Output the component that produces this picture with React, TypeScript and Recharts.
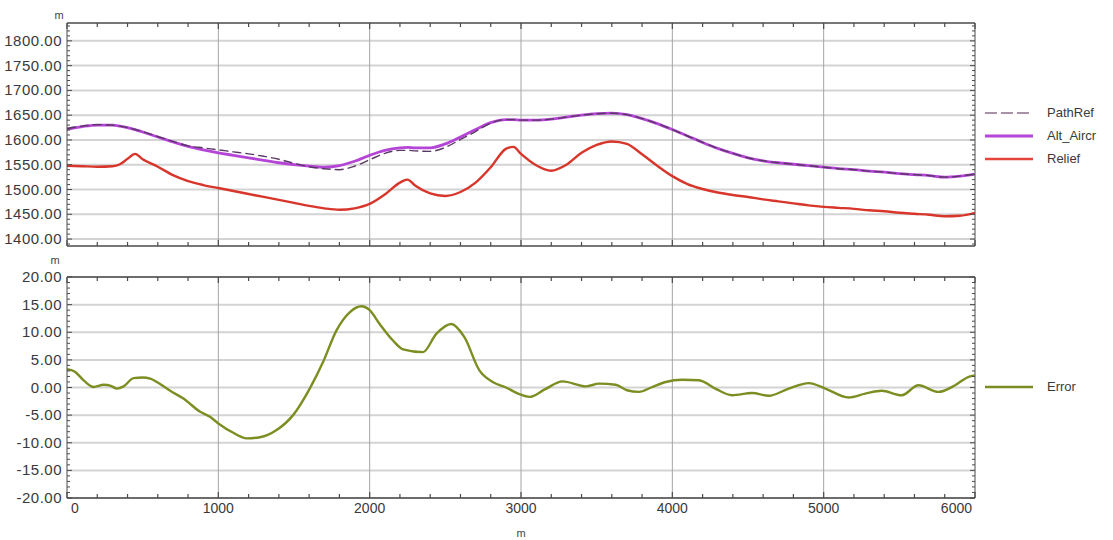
import React from 'react';
import { LineChart, Line, XAxis, YAxis, ReferenceLine } from 'recharts';

// ---------- data ----------
const topDistance = [
  0, 100, 200, 300, 350, 400, 450, 500, 600, 700, 800, 900, 1000, 1100, 1200, 1300, 1400, 1500, 1600, 1700,
  1800, 1900, 2000, 2100, 2200, 2250, 2300, 2400, 2500, 2600, 2700, 2800, 2900, 2950, 3000, 3100, 3200, 3300,
  3400, 3500, 3600, 3700, 3800, 3900, 4000, 4100, 4200, 4300, 4400, 4500, 4600, 4700, 4800, 4900, 5000, 5100,
  5200, 5300, 5400, 5500, 5600, 5700, 5800, 5900, 6000,
];
const relief = [
  1548, 1547, 1546, 1547, 1551, 1562, 1572, 1561, 1546, 1529, 1517, 1509, 1503, 1497, 1491, 1485, 1479, 1473, 1467, 1462,
  1459, 1462, 1471, 1490, 1514, 1520, 1508, 1492, 1487, 1495, 1514, 1545, 1582, 1586, 1572, 1549, 1538, 1550,
  1574, 1590, 1597, 1592, 1571, 1548, 1527, 1511, 1501, 1494, 1489, 1485, 1480, 1476, 1472, 1468, 1465, 1463,
  1461, 1458, 1456, 1453, 1451, 1449, 1446, 1447, 1453,
];
const altAircr = [
  1622, 1627, 1630, 1630, 1628, 1625, 1621, 1616, 1606, 1596, 1587, 1580, 1574, 1569, 1564, 1559, 1554, 1550, 1547, 1545,
  1548, 1557, 1569, 1579, 1584, 1585, 1584, 1584, 1592, 1606, 1621, 1635, 1641, 1641, 1640, 1640, 1642, 1646,
  1650, 1653, 1654, 1651, 1643, 1633, 1621, 1608, 1595, 1583, 1573, 1564, 1558, 1554, 1551, 1548, 1545, 1542,
  1540, 1537, 1535, 1532, 1530, 1528, 1525, 1527, 1531,
];
const pathRef = [
  1623, 1628, 1631, 1630, 1628, 1625, 1621, 1617, 1607, 1597, 1588, 1584, 1580, 1576, 1572, 1567, 1561, 1553, 1546, 1542,
  1540, 1547, 1560, 1573, 1579, 1579, 1578, 1577, 1585, 1601, 1617, 1634, 1641, 1641, 1640, 1640, 1642, 1646,
  1650, 1653, 1654, 1651, 1643, 1633, 1621, 1608, 1595, 1583, 1573, 1564, 1558, 1554, 1551, 1548, 1545, 1542,
  1540, 1537, 1535, 1532, 1530, 1528, 1525, 1527, 1531,
];

const errorDistance = [
  0, 50, 110, 176, 242, 290, 330, 374, 440, 500, 550, 594, 682, 769, 880, 945, 1000, 1099, 1187, 1275,
  1385, 1494, 1604, 1692, 1780, 1868, 1945, 2000, 2066, 2154, 2220, 2352, 2440, 2539, 2626, 2725, 2813, 2901,
  2989, 3055, 3160, 3274, 3429, 3516, 3626, 3700, 3780, 3860, 3956, 4066, 4176, 4290, 4395, 4527, 4637, 4769,
  4901, 5011, 5165, 5275, 5384, 5516, 5626, 5758, 5868, 5955, 6000,
];
const errorValues = [
  3.3, 2.9, 1.3, 0.1, 0.5, 0.3, -0.2, 0.2, 1.7, 1.8, 1.6, 1.0, -0.6, -2.0, -4.4, -5.3, -6.5, -8.2, -9.2, -9.0,
  -7.7, -5.0, -0.2, 4.6, 10.3, 13.6, 14.7, 14.0, 11.5, 8.5, 6.9, 6.4, 9.7, 11.5, 9.1, 3.1, 1.0, 0.0,
  -1.2, -1.7, -0.3, 1.1, 0.2, 0.7, 0.5, -0.5, -0.8, 0.0, 1.0, 1.4, 1.3, -0.3, -1.4, -1.0, -1.5, -0.2,
  0.8, -0.2, -1.8, -1.1, -0.6, -1.4, 0.4, -0.8, 0.4, 1.9, 2.2,
];

const xTicks = [0, 1000, 2000, 3000, 4000, 5000, 6000];
const topYTicks = [1400, 1450, 1500, 1550, 1600, 1650, 1700, 1750, 1800];
const bottomYTicks = [-20, -15, -10, -5, 0, 5, 10, 15, 20];

const topRows = topDistance.map((d, i) => ({ d, relief: relief[i], alt: altAircr[i], path: pathRef[i] }));
const errorRows = errorDistance.map((d, i) => ({ d, err: errorValues[i] }));

// minor tick positions (frame decoration only)
const range = (a: number, b: number, s: number) => {
  const out: number[] = [];
  for (let v = a; v <= b + 1e-9; v += s) out.push(Math.round(v * 100) / 100);
  return out;
};
const xMinor = range(0, 6000, 200);
const topYMinor = range(1390, 1830, 10);
const bottomYMinor = range(-20, 20, 1);

const TOP_DOMAIN: [number, number] = [1386, 1836];
const BOT_DOMAIN: [number, number] = [-20, 20];
const X_DOMAIN: [number, number] = [0, 6000];

// layout
const PLOT_L = 67;
const PLOT_R = 975;
const TOP_T = 23;
const TOP_B = 246;
const BOT_T = 27;
const BOT_B = 248;

const FONT = '"Liberation Sans", Arial, Helvetica, sans-serif';
const FRAME = '#4a4a4a';
const HGRID = '#d3d3d3';
const VGRID = '#a4a4a4';

const C_RELIEF = '#d8352b';
const C_ALT = '#b545d6';
const C_PATH = '#5a3866';
const C_ERR = '#7c8e22';

function XFrameTick(props: any) {
  const { x, payload, top, bottom, labels } = props;
  const v = payload.value;
  const major = v % 1000 === 0;
  const len = major ? 6 : 4;
  let anchor = 'middle';
  let dx = 0;
  if (v === 0) { anchor = 'start'; dx = 4; }
  if (v === 6000) { anchor = 'end'; dx = -3; }
  return (
    <g>
      <line x1={x} x2={x} y1={top} y2={top + len} stroke={FRAME} strokeWidth={1.2} />
      <line x1={x} x2={x} y1={bottom - len} y2={bottom} stroke={FRAME} strokeWidth={1.2} />
      {labels && major ? (
        <text x={x + dx} y={bottom + 15} textAnchor={anchor} fontSize={14} fill="#3a3a3a" fontFamily={FONT}>
          {v}
        </text>
      ) : null}
    </g>
  );
}

function YFrameTick(props: any) {
  const { x, y, payload, step } = props;
  const v = payload.value;
  const major = Math.abs(v / step - Math.round(v / step)) < 1e-6;
  const len = major ? 5 : 3;
  return (
    <g>
      <line x1={PLOT_L} x2={PLOT_L + len} y1={y} y2={y} stroke={FRAME} strokeWidth={1} />
      <line x1={PLOT_R - len} x2={PLOT_R} y1={y} y2={y} stroke={FRAME} strokeWidth={1} />
      {major ? (
        <text x={x} y={y} dy={5} textAnchor="end" fontSize={15} letterSpacing={0.5} fill="#3a3a3a" fontFamily={FONT}>
          {v.toFixed(2)}
        </text>
      ) : null}
    </g>
  );
}

function LegendRow(p: { top: number; label: string; color: string; dash?: string; sw: number }) {
  return (
    <div style={{ position: 'absolute', left: 983, top: p.top - 8, height: 16, display: 'flex', alignItems: 'center' }}>
      <svg width={52} height={16} style={{ display: 'block' }}>
        <line x1={2} y1={8} x2={50} y2={8} stroke={p.color} strokeWidth={p.sw} strokeDasharray={p.dash} />
      </svg>
      <span style={{ marginLeft: 12, fontSize: 13, color: '#3a3a3a', fontFamily: FONT, lineHeight: '16px' }}>{p.label}</span>
    </div>
  );
}

export default function App() {
  return (
    <div style={{ position: 'fixed', left: 0, top: 0, width: 1113, height: 540, background: '#fff', fontFamily: FONT }}>
      <div style={{ position: 'absolute', left: 0, top: 0 }}>
        <LineChart width={1113} height={250} data={topRows} margin={{ top: TOP_T, right: 1113 - PLOT_R, bottom: 3, left: 7 }}>
          {topYTicks.map((t) => (
            <ReferenceLine key={'h' + t} y={t} stroke={HGRID} strokeWidth={2} />
          ))}
          {xTicks.slice(1, -1).map((t) => (
            <ReferenceLine key={'v' + t} x={t} stroke={VGRID} strokeWidth={1} />
          ))}
          <ReferenceLine y={TOP_DOMAIN[1]} stroke={FRAME} strokeWidth={1.6} />
          <ReferenceLine x={X_DOMAIN[1]} stroke={FRAME} strokeWidth={1} />
          <XAxis dataKey="d" type="number" domain={X_DOMAIN} ticks={xMinor} interval={0} height={1}
            tick={(p: any) => <XFrameTick {...p} top={TOP_T} bottom={TOP_B} labels={false} />}
            tickLine={false} tickSize={0} axisLine={{ stroke: FRAME, strokeWidth: 1.6 }} allowDataOverflow />
          <YAxis type="number" domain={TOP_DOMAIN} ticks={topYMinor} interval={0} width={60} tickLine={false}
            tickSize={0} tickMargin={5} tick={(p: any) => <YFrameTick {...p} step={50} />}
            axisLine={{ stroke: FRAME }} allowDataOverflow
            label={{ value: 'm', position: 'top', dx: 22, offset: 4, fontSize: 11, fill: '#444' }} />
          <Line type="monotone" dataKey="relief" stroke={C_RELIEF} strokeWidth={2.4} dot={false} isAnimationActive={false} />
          <Line type="monotone" dataKey="alt" stroke={C_ALT} strokeWidth={2.8} dot={false} isAnimationActive={false} />
          <Line type="monotone" dataKey="path" stroke={C_PATH} strokeWidth={1.4} strokeDasharray="9 4" dot={false} isAnimationActive={false} />
        </LineChart>
      </div>

      <div style={{ position: 'absolute', left: 0, top: 250 }}>
        <LineChart width={1113} height={290} data={errorRows} margin={{ top: BOT_T, right: 1113 - PLOT_R, bottom: 20, left: 7 }}>
          {bottomYTicks.map((t) => (
            <ReferenceLine key={'h' + t} y={t} stroke={HGRID} strokeWidth={2} />
          ))}
          {xTicks.slice(1, -1).map((t) => (
            <ReferenceLine key={'v' + t} x={t} stroke={VGRID} strokeWidth={1} />
          ))}
          <ReferenceLine y={BOT_DOMAIN[1]} stroke={FRAME} strokeWidth={1.6} />
          <ReferenceLine x={X_DOMAIN[1]} stroke={FRAME} strokeWidth={1} />
          <XAxis dataKey="d" type="number" domain={X_DOMAIN} ticks={xMinor} interval={0} height={22}
            tick={(p: any) => <XFrameTick {...p} top={BOT_T} bottom={BOT_B} labels />}
            tickLine={false} tickSize={0} axisLine={{ stroke: FRAME, strokeWidth: 1.6 }} allowDataOverflow
            label={{ value: 'm', position: 'bottom', offset: 9, fontSize: 11, fill: '#444' }} />
          <YAxis type="number" domain={BOT_DOMAIN} ticks={bottomYMinor} interval={0} width={60} tickLine={false}
            tickSize={0} tickMargin={5} tick={(p: any) => <YFrameTick {...p} step={5} />}
            axisLine={{ stroke: FRAME }} allowDataOverflow
            label={{ value: 'm', position: 'top', dx: 18, offset: 13, fontSize: 11, fill: '#444' }} />
          <Line type="monotone" dataKey="err" stroke={C_ERR} strokeWidth={2.4} dot={false} isAnimationActive={false} />
        </LineChart>
      </div>

      <LegendRow top={113} label="PathRef" color="#8a6f8c" dash="12 4" sw={1.5} />
      <LegendRow top={136} label="Alt_Aircr" color={C_ALT} sw={3} />
      <LegendRow top={159} label="Relief" color="#e5463c" sw={2.5} />
      <LegendRow top={387} label="Error" color={C_ERR} sw={2.5} />
    </div>
  );
}
